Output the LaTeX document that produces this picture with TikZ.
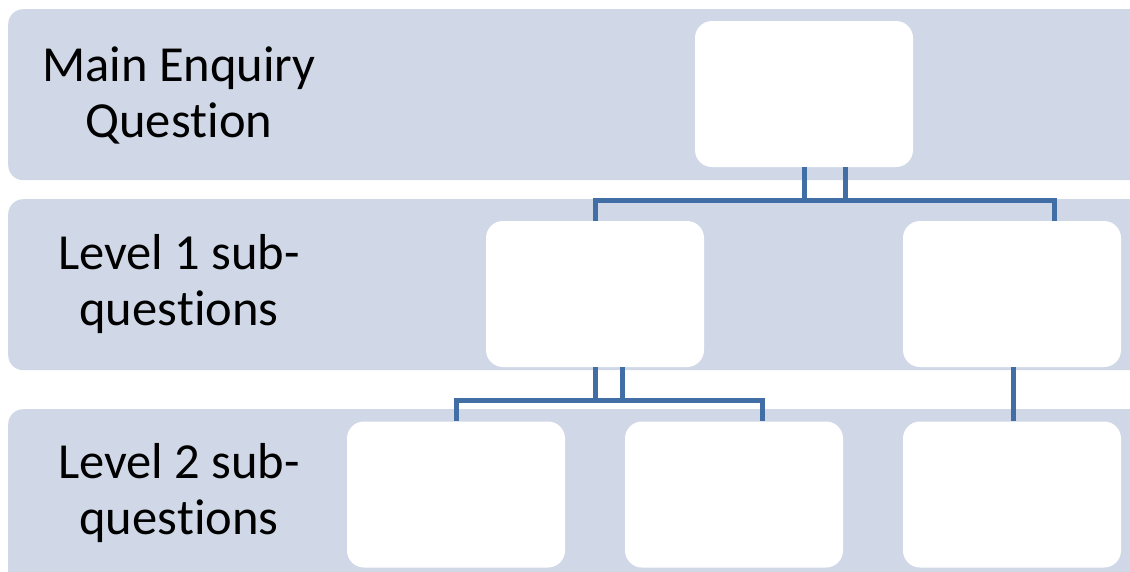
\documentclass[tikz,border=0pt]{standalone}
\usepackage{fontspec}
\setmainfont[Ligatures=NoCommon,RawFeature={-clig}]{Carlito}
\definecolor{bandc}{RGB}{208,216,231}
\definecolor{connc}{RGB}{66,110,166}
\tikzset{
  band/.style={fill=bandc, draw=none, rounded corners=15pt, anchor=north west, inner sep=0pt},
  qbox/.style={fill=white, draw=none, rounded corners=17pt, minimum width=218pt, minimum height=146pt, inner sep=0pt},
  conn/.style={draw=connc, line width=5pt},
  lbl/.style={align=center, font=\fontsize{50.5}{56}\selectfont, text=black}
}
\begin{document}
\begin{tikzpicture}[x=1pt,y=-1pt]
\useasboundingbox (0,0) rectangle (1130,571);
\clip (0,0) rectangle (1130,571);
% bands
\node[band, minimum width=1150pt, minimum height=171pt] (b1) at (8,9) {};
\node[band, minimum width=1150pt, minimum height=171pt] (b2) at (8,199) {};
\node[band, minimum width=1150pt, minimum height=200pt] (b3) at (8,409) {};
% labels
\node[lbl] (t1) at (179,95) {Main Enquiry\\Ques\kern0pt t\kern0pt ion};
\node[lbl] (t2) at (179,284) {Level 1 sub-\\ques\kern0pt t\kern0pt ions};
\node[lbl] (t3) at (179,493) {Level 2 sub-\\ques\kern0pt t\kern0pt ions};
% boxes
\node[qbox] (main) at (804,94) {};
\node[qbox] (l1a) at (595,294) {};
\node[qbox] (l1b) at (1012,294) {};
\node[qbox] (l2a) at (456,494.5) {};
\node[qbox] (l2b) at (734,494.5) {};
\node[qbox] (l2c) at (1012,494.5) {};
% connectors
\draw[conn] ([xshift=41pt]main.south) -- ++(0,33) -| (l1a.north);
\draw[conn] (main.south) -- ++(0,33) -| ([xshift=42pt]l1b.north);
\draw[conn] ([xshift=27pt]l1a.south) -- ++(0,33) -| (l2a.north);
\draw[conn] (l1a.south) -- ++(0,33) -| ([xshift=28pt]l2b.north);
\draw[conn] ([xshift=1pt]l1b.south) -- ([xshift=1pt]l2c.north);
\end{tikzpicture}
\end{document}
